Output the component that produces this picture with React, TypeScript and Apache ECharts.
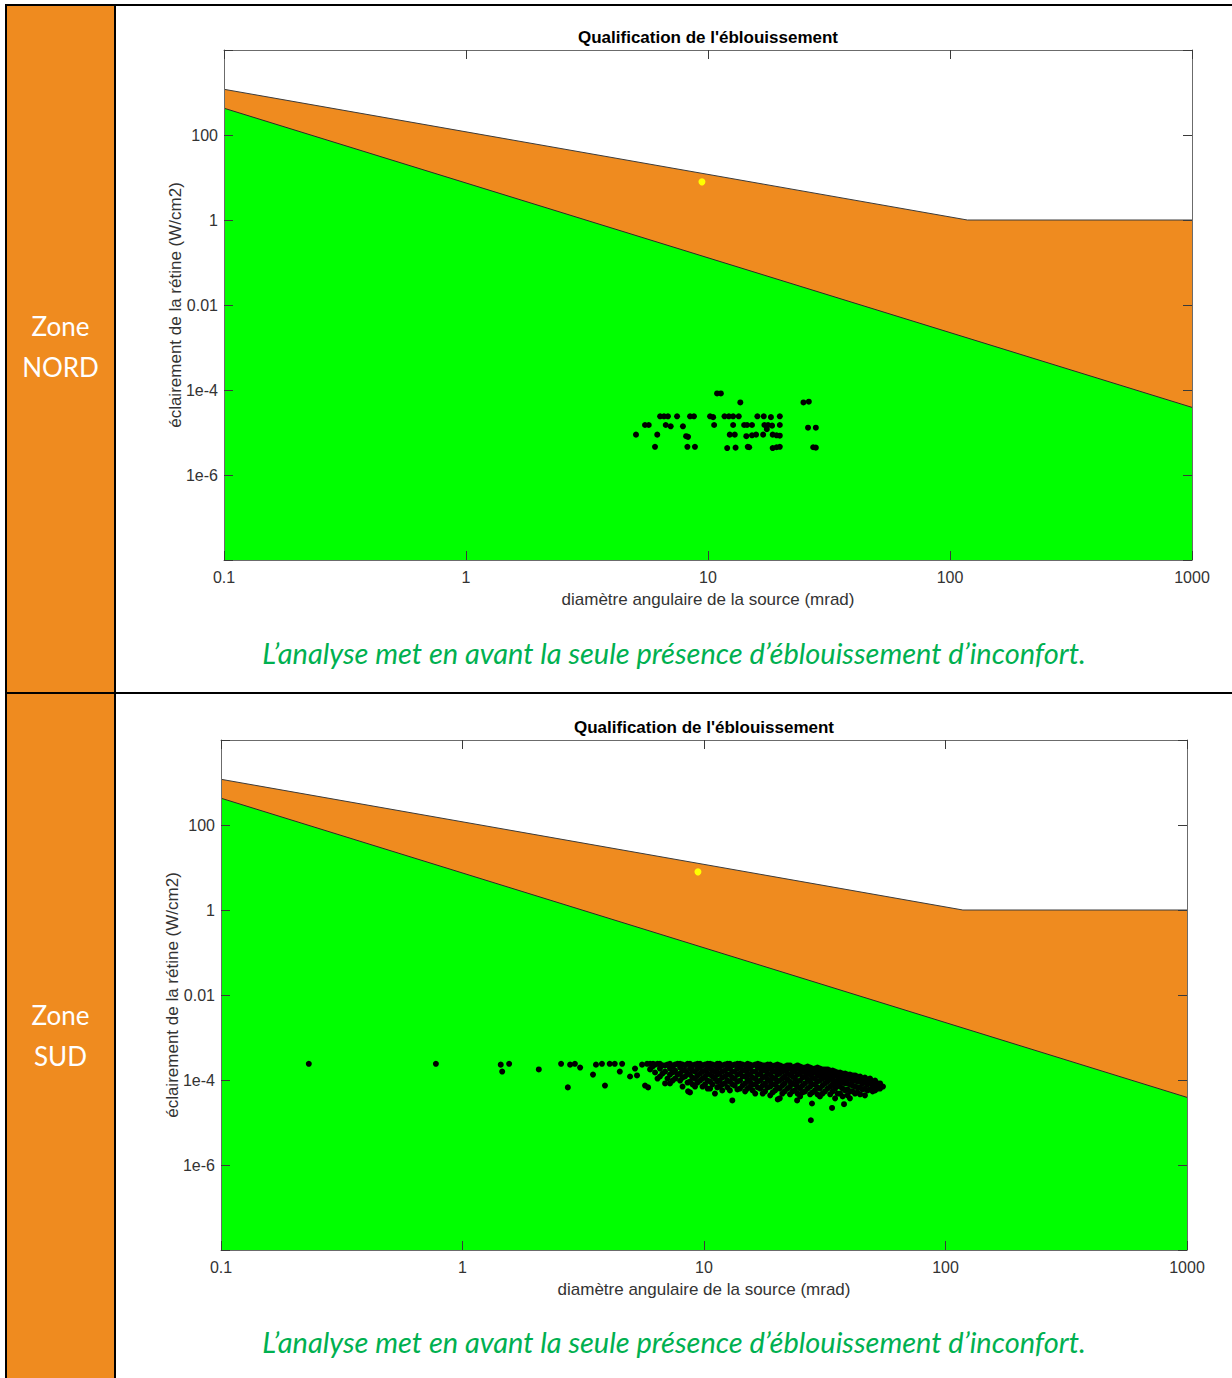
import React, { useEffect, useRef } from "react";
import * as echarts from "echarts";

const TITLE = "Qualification de l'éblouissement";
const X_NAME = "diamètre angulaire de la source (mrad)";
const Y_NAME = "éclairement de la rétine (W/cm2)";
const CAPTION = "L’analyse met en avant la seule présence d’éblouissement d’inconfort.";
const ZONE_NORD = ["Zone", "NORD"];
const ZONE_SUD = ["Zone", "SUD"];

const X_TICKS = [0.1, 1, 10, 100, 1000];
const X_TICK_LABELS = ["0.1", "1", "10", "100", "1000"];
const Y_TICKS = [1e-8, 1e-6, 1e-4, 0.01, 1, 100, 1e4];
const Y_TICK_LABELS = ["", "1e-6", "1e-4", "0.01", "1", "100", ""];

// boundaries [diameter (mrad), irradiance (W/cm2)]
const BURN_LINE = [[0.1, 1190], [118, 1], [1000, 1]];
const AFTERIMAGE_LINE = [[0.1, 427], [1000, 3.9e-5]];
const SUN_POINT = [[9.44, 7.9]];

const NORD_POINTS = [
  [10.9, 8.3e-5], [11.3, 8.3e-5], [13.6, 5.1e-5], [24.8, 5.1e-5], [26.1, 5.3e-5],
  [6.34, 2.4e-5], [6.58, 2.4e-5], [6.83, 2.4e-5], [7.45, 2.4e-5], [8.43, 2.4e-5], [8.75, 2.4e-5],
  [10.2, 2.4e-5], [10.5, 2.3e-5], [11.7, 2.4e-5], [12.2, 2.4e-5], [12.7, 2.4e-5], [13.4, 2.4e-5],
  [16.0, 2.4e-5], [17.0, 2.4e-5], [18.2, 2.3e-5], [19.8, 2.4e-5],
  [5.49, 1.5e-5], [5.69, 1.5e-5], [6.69, 1.5e-5], [7.01, 1.4e-5], [7.88, 1.4e-5], [10.6, 1.5e-5],
  [12.7, 1.5e-5], [14.1, 1.5e-5], [14.5, 1.5e-5], [15.2, 1.5e-5], [17.1, 1.5e-5], [17.7, 1.5e-5],
  [18.4, 1.45e-5], [19.8, 1.5e-5], [17.5, 1.2e-5], [25.9, 1.3e-5], [27.9, 1.3e-5],
  [5.04, 8.9e-6], [6.17, 8.9e-6], [8.12, 8.2e-6], [8.27, 7.9e-6], [12.3, 8.9e-6], [12.9, 8.9e-6],
  [14.4, 8.2e-6], [15.2, 8.6e-6], [15.8, 8.9e-6], [16.9, 8.9e-6], [18.5, 8.9e-6], [19.2, 8.6e-6],
  [19.8, 8.4e-6],
  [6.04, 4.6e-6], [8.22, 4.6e-6], [8.83, 4.6e-6], [12.0, 4.3e-6], [13.0, 4.4e-6], [14.6, 4.6e-6],
  [14.8, 4.5e-6], [18.5, 4.3e-6], [19.2, 4.5e-6], [19.8, 4.6e-6], [27.2, 4.5e-6], [27.9, 4.4e-6],
];

const SUD_POINTS = [
  [0.231, 2.4e-4], [0.776, 2.4e-4], [1.44, 2.3e-4], [1.56, 2.4e-4], [1.46, 1.58e-4], [2.07, 1.77e-4],
  [2.56, 2.4e-4], [2.73, 6.7e-5], [2.79, 2.3e-4], [2.92, 2.4e-4], [3.07, 1.96e-4], [3.47, 1.34e-4],
  [3.57, 2.3e-4], [3.78, 2.4e-4], [3.89, 7.4e-5], [4.07, 2.4e-4], [4.27, 2.4e-4], [4.58, 2.4e-4],
  [4.48, 1.58e-4], [4.94, 1.21e-4], [5.28, 1.28e-4], [5.18, 1.86e-4], [5.54, 2.3e-4], [5.70, 7.4e-5],
  [5.87, 6.7e-5], [5.81, 2.4e-4], [6.15, 2.4e-4], [8.59, 5.4e-5], [11.1, 4.8e-5], [13.1, 3.3e-5],
  [20.2, 3.5e-5], [24.3, 3.3e-5], [28.0, 2.8e-5], [27.7, 1.13e-5], [33.9, 2.2e-5], [38.0, 2.7e-5],
  [5.98, 2.4e-4], [5.98, 1.77e-4],
  [6.27, 2.3e-4], [6.27, 1.5e-4],
  [6.57, 2.4e-4], [6.57, 1.86e-4], [6.57, 1.21e-4],
  [6.90, 2.2e-4], [6.90, 1.58e-4], [6.90, 8.3e-5],
  [7.23, 2.4e-4], [7.23, 1.86e-4], [7.23, 1.34e-4], [7.23, 8.3e-5],
  [7.59, 2.3e-4], [7.59, 1.67e-4], [7.59, 1.08e-4],
  [7.96, 2.4e-4], [7.96, 1.96e-4], [7.96, 1.42e-4], [7.96, 9.7e-5],
  [8.35, 2.2e-4], [8.35, 1.67e-4], [8.35, 1.21e-4],
  [8.75, 2.4e-4], [8.75, 1.86e-4], [8.75, 1.34e-4], [8.75, 9.2e-5], [8.75, 5.1e-5],
  [9.18, 2.3e-4], [9.18, 1.58e-4], [9.18, 1.08e-4], [9.18, 7.0e-5],
  [9.63, 2.4e-4], [9.63, 1.96e-4], [9.63, 1.42e-4], [9.63, 9.7e-5],
  [10.1, 2.3e-4], [10.1, 1.67e-4], [10.1, 1.21e-4], [10.1, 7.9e-5],
  [10.6, 2.4e-4], [10.6, 1.86e-4], [10.6, 1.34e-4], [10.6, 9.2e-5], [10.6, 6.3e-5],
  [11.1, 2.2e-4], [11.1, 1.58e-4], [11.1, 1.08e-4],
  [11.6, 2.4e-4], [11.6, 1.96e-4], [11.6, 1.42e-4], [11.6, 9.7e-5], [11.6, 7.0e-5],
  [12.2, 2.3e-4], [12.2, 1.67e-4], [12.2, 1.21e-4], [12.2, 8.3e-5],
  [12.8, 2.4e-4], [12.8, 1.86e-4], [12.8, 1.34e-4], [12.8, 9.2e-5], [12.8, 5.7e-5],
  [13.4, 2.3e-4], [13.4, 1.58e-4], [13.4, 1.08e-4], [13.4, 7.4e-5],
  [14.1, 2.4e-4], [14.1, 1.96e-4], [14.1, 1.42e-4], [14.1, 9.7e-5], [14.1, 6.3e-5],
  [14.8, 2.2e-4], [14.8, 1.67e-4], [14.8, 1.21e-4], [14.8, 8.3e-5], [14.8, 5.4e-5],
  [15.5, 2.3e-4], [15.5, 1.86e-4], [15.5, 1.34e-4], [15.5, 9.2e-5], [15.5, 7.0e-5],
  [16.3, 2.3e-4], [16.3, 1.58e-4], [16.3, 1.08e-4], [16.3, 7.9e-5], [16.3, 4.8e-5],
  [17.1, 2.3e-4], [17.1, 1.86e-4], [17.1, 1.42e-4], [17.1, 9.7e-5], [17.1, 6.3e-5],
  [17.9, 2.2e-4], [17.9, 1.67e-4], [17.9, 1.21e-4], [17.9, 8.3e-5], [17.9, 5.4e-5],
  [18.8, 2.3e-4], [18.8, 1.86e-4], [18.8, 1.34e-4], [18.8, 9.2e-5], [18.8, 7.0e-5], [18.8, 4.35e-5],
  [19.7, 2.2e-4], [19.7, 1.58e-4], [19.7, 1.08e-4], [19.7, 7.9e-5], [19.7, 5.7e-5],
  [20.6, 2.2e-4], [20.6, 1.86e-4], [20.6, 1.42e-4], [20.6, 9.7e-5], [20.6, 6.3e-5], [20.6, 3.7e-5],
  [21.6, 2.07e-4], [21.6, 1.67e-4], [21.6, 1.21e-4], [21.6, 8.3e-5], [21.6, 5.4e-5],
  [22.7, 2.2e-4], [22.7, 1.86e-4], [22.7, 1.34e-4], [22.7, 9.2e-5], [22.7, 7.0e-5], [22.7, 4.6e-5],
  [23.8, 2.07e-4], [23.8, 1.58e-4], [23.8, 1.08e-4], [23.8, 7.9e-5], [23.8, 5.7e-5],
  [25.0, 2.07e-4], [25.0, 1.77e-4], [25.0, 1.42e-4], [25.0, 9.7e-5], [25.0, 6.3e-5], [25.0, 4.1e-5],
  [26.2, 1.96e-4], [26.2, 1.58e-4], [26.2, 1.21e-4], [26.2, 8.3e-5], [26.2, 5.4e-5],
  [27.5, 1.96e-4], [27.5, 1.67e-4], [27.5, 1.34e-4], [27.5, 9.2e-5], [27.5, 7.0e-5], [27.5, 4.6e-5],
  [28.8, 1.86e-4], [28.8, 1.5e-4], [28.8, 1.08e-4], [28.8, 7.9e-5], [28.8, 5.7e-5],
  [30.2, 1.86e-4], [30.2, 1.58e-4], [30.2, 1.28e-4], [30.2, 9.7e-5], [30.2, 6.3e-5], [30.2, 4.1e-5],
  [31.7, 1.77e-4], [31.7, 1.42e-4], [31.7, 1.14e-4], [31.7, 8.3e-5], [31.7, 5.4e-5],
  [33.3, 1.67e-4], [33.3, 1.34e-4], [33.3, 1.03e-4], [33.3, 7.0e-5], [33.3, 4.6e-5],
  [34.9, 1.58e-4], [34.9, 1.28e-4], [34.9, 9.2e-5], [34.9, 6.3e-5], [34.9, 3.7e-5],
  [36.6, 1.5e-4], [36.6, 1.21e-4], [36.6, 9.2e-5], [36.6, 7.0e-5], [36.6, 4.8e-5],
  [38.4, 1.42e-4], [38.4, 1.08e-4], [38.4, 8.3e-5], [38.4, 5.7e-5],
  [40.2, 1.34e-4], [40.2, 1.08e-4], [40.2, 7.9e-5], [40.2, 5.4e-5], [40.2, 3.7e-5],
  [42.2, 1.28e-4], [42.2, 9.7e-5], [42.2, 7.0e-5], [42.2, 4.8e-5],
  [44.3, 1.21e-4], [44.3, 9.2e-5], [44.3, 6.7e-5], [44.3, 4.6e-5],
  [46.4, 1.14e-4], [46.4, 8.7e-5], [46.4, 6.3e-5], [46.4, 4.35e-5],
  [48.7, 1.08e-4], [48.7, 8.3e-5], [48.7, 6.0e-5],
  [51.1, 9.7e-5], [51.1, 7.4e-5], [51.1, 5.7e-5],
  [53.6, 8.3e-5], [53.6, 6.3e-5],
  [55.1, 7.0e-5],
  [6.12, 2.07e-4],
  [6.42, 2.4e-4], [6.42, 1.08e-4],
  [6.73, 2.2e-4], [6.73, 1.42e-4],
  [7.06, 2.3e-4], [7.06, 1.08e-4],
  [7.41, 2.07e-4], [7.41, 1.5e-4], [7.41, 9.7e-5],
  [7.77, 2.4e-4], [7.77, 1.34e-4],
  [8.15, 2.3e-4], [8.15, 1.67e-4], [8.15, 1.14e-4], [8.15, 7.0e-5],
  [8.55, 2.4e-4], [8.55, 1.42e-4], [8.55, 8.7e-5],
  [8.96, 2.2e-4], [8.96, 1.67e-4], [8.96, 1.14e-4], [8.96, 7.9e-5],
  [9.40, 2.4e-4], [9.40, 1.86e-4], [9.40, 1.28e-4], [9.40, 8.7e-5],
  [9.86, 2.2e-4], [9.86, 1.58e-4], [9.86, 1.08e-4], [9.86, 7.0e-5],
  [10.35, 2.4e-4], [10.35, 1.96e-4], [10.35, 1.42e-4], [10.35, 9.7e-5], [10.35, 6.3e-5],
  [10.85, 2.3e-4], [10.85, 1.67e-4], [10.85, 1.21e-4], [10.85, 7.9e-5],
  [11.35, 2.4e-4], [11.35, 1.86e-4], [11.35, 1.34e-4], [11.35, 9.2e-5], [11.35, 6.7e-5],
  [11.9, 2.2e-4], [11.9, 1.58e-4], [11.9, 1.14e-4], [11.9, 7.9e-5], [11.9, 5.7e-5],
  [12.5, 2.4e-4], [12.5, 1.86e-4], [12.5, 1.34e-4], [12.5, 9.7e-5], [12.5, 6.7e-5],
  [13.1, 2.2e-4], [13.1, 1.58e-4], [13.1, 1.14e-4], [13.1, 7.9e-5],
  [13.75, 2.4e-4], [13.75, 1.86e-4], [13.75, 1.34e-4], [13.75, 9.2e-5], [13.75, 6.0e-5],
  [14.45, 2.3e-4], [14.45, 1.67e-4], [14.45, 1.21e-4], [14.45, 7.4e-5],
  [15.15, 2.4e-4], [15.15, 1.86e-4], [15.15, 1.42e-4], [15.15, 1.03e-4], [15.15, 6.3e-5],
  [15.9, 2.2e-4], [15.9, 1.58e-4], [15.9, 1.14e-4], [15.9, 7.9e-5], [15.9, 5.7e-5],
  [16.7, 2.4e-4], [16.7, 1.96e-4], [16.7, 1.34e-4], [16.7, 9.2e-5], [16.7, 6.7e-5],
  [17.5, 2.2e-4], [17.5, 1.67e-4], [17.5, 1.14e-4], [17.5, 7.4e-5], [17.5, 4.8e-5],
  [18.35, 2.3e-4], [18.35, 1.86e-4], [18.35, 1.42e-4], [18.35, 1.03e-4], [18.35, 6.7e-5],
  [19.25, 2.07e-4], [19.25, 1.58e-4], [19.25, 1.14e-4], [19.25, 7.9e-5], [19.25, 5.1e-5],
  [20.15, 2.3e-4], [20.15, 1.86e-4], [20.15, 1.34e-4], [20.15, 9.2e-5], [20.15, 6.7e-5],
  [21.1, 2.07e-4], [21.1, 1.58e-4], [21.1, 1.08e-4], [21.1, 7.4e-5], [21.1, 4.8e-5],
  [22.15, 2.2e-4], [22.15, 1.86e-4], [22.15, 1.42e-4], [22.15, 1.03e-4], [22.15, 6.3e-5],
  [23.25, 1.96e-4], [23.25, 1.58e-4], [23.25, 1.21e-4], [23.25, 8.3e-5], [23.25, 5.4e-5],
  [24.4, 2.2e-4], [24.4, 1.86e-4], [24.4, 1.34e-4], [24.4, 9.2e-5], [24.4, 7.0e-5], [24.4, 4.8e-5],
  [25.6, 1.96e-4], [25.6, 1.58e-4], [25.6, 1.14e-4], [25.6, 7.4e-5], [25.6, 5.1e-5],
  [26.85, 2.07e-4], [26.85, 1.77e-4], [26.85, 1.42e-4], [26.85, 1.03e-4], [26.85, 6.3e-5],
  [28.1, 1.86e-4], [28.1, 1.5e-4], [28.1, 1.14e-4], [28.1, 7.9e-5], [28.1, 5.1e-5],
  [29.5, 1.96e-4], [29.5, 1.67e-4], [29.5, 1.28e-4], [29.5, 9.2e-5], [29.5, 6.7e-5], [29.5, 4.6e-5],
  [30.95, 1.77e-4], [30.95, 1.42e-4], [30.95, 1.08e-4], [30.95, 7.4e-5], [30.95, 4.8e-5],
  [32.5, 1.77e-4], [32.5, 1.5e-4], [32.5, 1.21e-4], [32.5, 9.2e-5], [32.5, 6.3e-5],
  [34.1, 1.67e-4], [34.1, 1.34e-4], [34.1, 1.08e-4], [34.1, 7.9e-5], [34.1, 5.4e-5],
  [35.75, 1.5e-4], [35.75, 1.21e-4], [35.75, 9.7e-5], [35.75, 7.4e-5], [35.75, 4.8e-5],
  [37.5, 1.42e-4], [37.5, 1.14e-4], [37.5, 8.7e-5], [37.5, 6.3e-5], [37.5, 4.1e-5],
  [39.3, 1.34e-4], [39.3, 1.08e-4], [39.3, 8.3e-5], [39.3, 6.0e-5], [39.3, 4.35e-5],
  [41.2, 1.28e-4], [41.2, 9.7e-5], [41.2, 7.4e-5], [41.2, 5.4e-5],
  [43.2, 1.21e-4], [43.2, 9.2e-5], [43.2, 6.7e-5], [43.2, 5.1e-5],
  [45.35, 1.08e-4], [45.35, 8.3e-5], [45.35, 6.0e-5],
  [47.55, 1.03e-4], [47.55, 7.9e-5], [47.55, 5.7e-5],
  [49.9, 9.2e-5], [49.9, 7.0e-5], [49.9, 5.4e-5],
  [52.3, 8.3e-5], [52.3, 6.3e-5],
];

const ORANGE = "#EF8B1F";
const GREEN = "#00FF00";
const CAPTION_GREEN = "#00B050";
const AXIS_FONT = '"Liberation Sans", Arial, Helvetica, sans-serif';

const lg = (pts: number[][]) => pts.map((p) => [Math.log10(p[0]), Math.log10(p[1])]);

function xLabel(v: number) {
  const i = X_TICKS.findIndex((t) => Math.abs(Math.log10(t) - v) < 1e-6);
  return i >= 0 ? X_TICK_LABELS[i] : "";
}
function yLabel(v: number) {
  const i = Y_TICKS.findIndex((t) => Math.abs(Math.log10(t) - v) < 1e-6);
  return i >= 0 ? Y_TICK_LABELS[i] : "";
}

function buildOption(points: number[][], grid: { left: number; top: number; width: number; height: number }, titleY: number) {
  const axisLine = { show: true, onZero: false, lineStyle: { color: "#6b6b6b", width: 1 } };
  const axisTick = { show: true, inside: true, length: 9, lineStyle: { color: "#3a3a3a", width: 1 } };
  const xBase = { type: "value", min: Math.log10(X_TICKS[0]), max: Math.log10(X_TICKS[X_TICKS.length - 1]), interval: 1, splitLine: { show: false }, axisLine, axisTick, z: 10 };
  const yBase = { type: "value", min: Math.log10(Y_TICKS[0]), max: Math.log10(Y_TICKS[Y_TICKS.length - 1]), interval: 2, splitLine: { show: false }, axisLine, axisTick, z: 10 };
  const labelStyle = { color: "#333333", fontSize: 16, fontFamily: AXIS_FONT };
  return {
    animation: false,
    grid: { left: grid.left, top: grid.top, width: grid.width, height: grid.height, containLabel: false },
    graphic: [
      {
        type: "text",
        x: grid.left + grid.width / 2,
        y: titleY,
        z: 20,
        style: { text: TITLE, fill: "#000", font: `bold 17px ${AXIS_FONT}`, align: "center", verticalAlign: "middle" },
      },
    ],
    xAxis: [
      { ...xBase, position: "bottom", axisLabel: { ...labelStyle, margin: 9, formatter: xLabel },
        name: X_NAME, nameLocation: "middle", nameGap: 31, nameMoveOverlap: false, nameTextStyle: { ...labelStyle, fontSize: 17 } },
      { ...xBase, position: "top", axisLabel: { show: false } },
    ],
    yAxis: [
      { ...yBase, position: "left", axisLabel: { ...labelStyle, margin: 6, formatter: yLabel },
        name: Y_NAME, nameLocation: "middle", nameGap: 40, nameMoveOverlap: false, nameRotate: 90, nameTextStyle: { ...labelStyle, fontSize: 17 } },
      { ...yBase, position: "right", axisLabel: { show: false } },
    ],
    series: [
      { type: "line", data: lg(BURN_LINE), symbol: "none", lineStyle: { color: "#3c3c3c", width: 1 },
        areaStyle: { color: ORANGE, opacity: 1, origin: "start" }, z: 2 },
      { type: "line", data: lg(AFTERIMAGE_LINE), symbol: "none", lineStyle: { color: "#2a2a2a", width: 1 },
        areaStyle: { color: GREEN, opacity: 1, origin: "start" }, z: 3 },
      { type: "scatter", data: lg(points), symbol: "circle", symbolSize: 6, itemStyle: { color: "#000", opacity: 1 }, z: 4 },
      { type: "scatter", data: lg(SUN_POINT), symbol: "circle", symbolSize: 7, itemStyle: { color: "#FFFF00", opacity: 1 }, z: 5 },
    ],
  };
}

function Chart(props: { left: number; top: number; points: number[][]; grid: { left: number; top: number; width: number; height: number }; titleY: number }) {
  const ref = useRef<HTMLDivElement>(null);
  useEffect(() => {
    if (!ref.current) return;
    const chart = echarts.init(ref.current, null, { renderer: "svg" });
    chart.setOption(buildOption(props.points, props.grid, props.titleY) as any);
    return () => chart.dispose();
  }, []);
  return <div ref={ref} style={{ position: "absolute", left: props.left, top: props.top, width: 1116, height: 615 }} />;
}

const zoneStyle: React.CSSProperties = {
  position: "absolute", left: 7, width: 107, textAlign: "center", color: "#fff",
  fontFamily: 'Lato, "Open Sans", sans-serif', fontSize: 26, lineHeight: "41px",
};
const captionStyle: React.CSSProperties = {
  position: "absolute", left: 116, width: 1116, textAlign: "center", color: CAPTION_GREEN,
  fontFamily: 'Lato, "Open Sans", sans-serif', fontStyle: "italic", fontSize: 29, lineHeight: "34px",
};

export default function App() {
  return (
    <div style={{ position: "absolute", left: 0, top: 0, width: 1232, height: 1378, background: "#fff", overflow: "hidden" }}>
      <div style={{ position: "absolute", left: 7, top: 6, width: 107, height: 1372, background: ORANGE }} />
      <div style={{ position: "absolute", left: 5, top: 4, width: 1227, height: 2, background: "#000" }} />
      <div style={{ position: "absolute", left: 5, top: 4, width: 2, height: 1374, background: "#000" }} />
      <div style={{ position: "absolute", left: 114, top: 4, width: 2, height: 1374, background: "#000" }} />
      <div style={{ position: "absolute", left: 5, top: 692, width: 1227, height: 2, background: "#000" }} />
      <div style={{ ...zoneStyle, top: 306 }}>{ZONE_NORD[0]}<br />{ZONE_NORD[1]}</div>
      <div style={{ ...zoneStyle, top: 995 }}>{ZONE_SUD[0]}<br />{ZONE_SUD[1]}</div>
      <Chart left={116} top={8} points={NORD_POINTS} grid={{ left: 108, top: 42, width: 968, height: 510 }} titleY={29} />
      <Chart left={116} top={696} points={SUD_POINTS} grid={{ left: 105, top: 44, width: 966, height: 510 }} titleY={31} />
      <div style={{ ...captionStyle, top: 636 }}>{CAPTION}</div>
      <div style={{ ...captionStyle, top: 1325 }}>{CAPTION}</div>
    </div>
  );
}
